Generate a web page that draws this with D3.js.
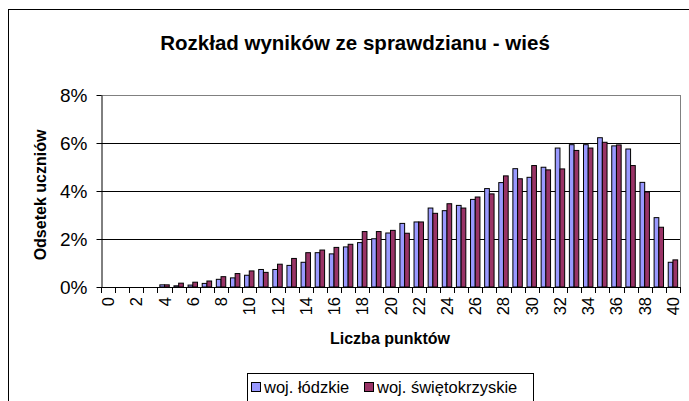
<!DOCTYPE html>
<html><head><meta charset="utf-8">
<script src="https://cdn.jsdelivr.net/npm/d3@7/dist/d3.min.js"></script>
<style>
html,body{margin:0;padding:0;background:#fff;}
svg{display:block;font-family:"Liberation Sans",Arial,sans-serif;}
</style></head>
<body><svg id="c" width="689" height="401"></svg>
<script>
const categories = ["0","1","2","3","4","5","6","7","8","9","10","11","12","13","14","15","16","17","18","19","20","21","22","23","24","25","26","27","28","29","30","31","32","33","34","35","36","37","38","39","40"];
const lodzkie = [0,0,0,0,0.09,0.05,0.08,0.15,0.32,0.38,0.49,0.73,0.73,0.90,1.03,1.43,1.38,1.67,1.85,2.01,2.25,2.65,2.71,3.29,3.18,3.40,3.65,4.10,4.35,4.93,4.57,4.99,5.79,5.93,5.93,6.22,5.88,5.75,4.36,2.89,1.03];
const swietokrzyskie = [0,0,0,0,0.09,0.16,0.20,0.25,0.43,0.56,0.67,0.61,0.95,1.19,1.43,1.54,1.65,1.78,2.31,2.31,2.36,2.24,2.71,3.07,3.47,3.29,3.75,3.88,4.63,4.51,5.06,4.88,4.92,5.69,5.79,6.03,5.92,5.06,3.96,2.49,1.13];
const seriesNames = ["woj. łódzkie","woj. świętokrzyskie"];
const seriesColors = ["#9999FF","#993366"];
const yTicks = [0,2,4,6,8];
const title = "Rozkład wyników ze sprawdzianu - wieś";
const xTitle = "Liczba punktów";
const yTitle = "Odsetek uczniów";

const svg = d3.select("#c");
const L=101, R=680, T=95, B=287;

// outer border
svg.append("rect").attr("x",8.5).attr("y",9.5).attr("width",700).attr("height",420)
  .attr("fill","#fff").attr("stroke","#000").attr("stroke-width",1);

const x = d3.scaleBand().domain(categories).range([L,R]).padding(0);
const y = d3.scaleLinear().domain([0,8]).range([B,T]);
const w = x.bandwidth()/3;

// gridlines
svg.append("g").selectAll("line").data(yTicks.slice(1)).join("line")
  .attr("x1",L).attr("x2",R).attr("y1",d=>Math.round(y(d))+0.5).attr("y2",d=>Math.round(y(d))+0.5)
  .attr("stroke",(d)=>d===8?"#808080":"#000").attr("stroke-width",1);
// plot right border
svg.append("line").attr("x1",R+0.5).attr("x2",R+0.5).attr("y1",T).attr("y2",B).attr("stroke","#808080");

// bars
const series = [lodzkie, swietokrzyskie];
series.forEach((vals,si)=>{
  svg.append("g").selectAll("rect").data(vals).join("rect")
    .attr("x",(d,i)=>x(categories[i]) + w/2 + si*w)
    .attr("y",d=>y(d))
    .attr("width",w)
    .attr("height",d=>Math.max(0,B-y(d)))
    .attr("fill",seriesColors[si])
    .attr("stroke","#000").attr("stroke-width",1)
    .attr("display",d=>d>0?null:"none");
});

// y axis
const ya = svg.append("g").attr("transform",`translate(${L+0.5},0)`)
  .call(d3.axisLeft(y).tickValues(yTicks).tickFormat(d=>d+"%").tickSize(5).tickSizeOuter(0));
ya.select(".domain").attr("stroke","#000");
ya.selectAll("text").attr("font-size","19px").attr("fill","#000").attr("x",-14).attr("dy","0.36em")
  .attr("font-family","Liberation Sans, Arial, sans-serif");

// x axis line and ticks at category boundaries
svg.append("line").attr("x1",L).attr("x2",R+1).attr("y1",B+0.5).attr("y2",B+0.5).attr("stroke","#000");
const bounds = categories.map(c=>x(c)).concat([R]);
svg.append("g").selectAll("line").data(bounds).join("line")
  .attr("x1",d=>Math.round(d)+0.5).attr("x2",d=>Math.round(d)+0.5)
  .attr("y1",B).attr("y2",B+6).attr("stroke","#000");
// x labels every 2
svg.append("g").selectAll("text").data(categories.filter((c,i)=>i%2===0)).join("text")
  .attr("transform",d=>`translate(${x(d)+x.bandwidth()/2+6},${B+10}) rotate(-90)`)
  .attr("text-anchor","end").attr("font-size","16.5px").text(d=>d);

// titles
svg.append("text").attr("x",355).attr("y",50).attr("text-anchor","middle")
  .attr("font-size","20.5px").attr("font-weight","bold").text(title);
svg.append("text").attr("x",390).attr("y",344).attr("text-anchor","middle")
  .attr("font-size","16px").attr("font-weight","bold").text(xTitle);
svg.append("text").attr("transform","translate(46,195) rotate(-90)").attr("text-anchor","middle")
  .attr("font-size","16px").attr("font-weight","bold").text(yTitle);

// legend
const lg = svg.append("g");
lg.append("rect").attr("x",247.5).attr("y",373.5).attr("width",286).attr("height",40)
  .attr("fill","#fff").attr("stroke","#000");
const lx = [251, 364];
seriesNames.forEach((n,i)=>{
  lg.append("rect").attr("x",lx[i]+0.5).attr("y",382.5).attr("width",9).attr("height",9)
    .attr("fill",seriesColors[i]).attr("stroke","#000");
  lg.append("text").attr("x",lx[i]+13).attr("y",393).attr("font-size","16.5px").text(n);
});
</script></body></html>
